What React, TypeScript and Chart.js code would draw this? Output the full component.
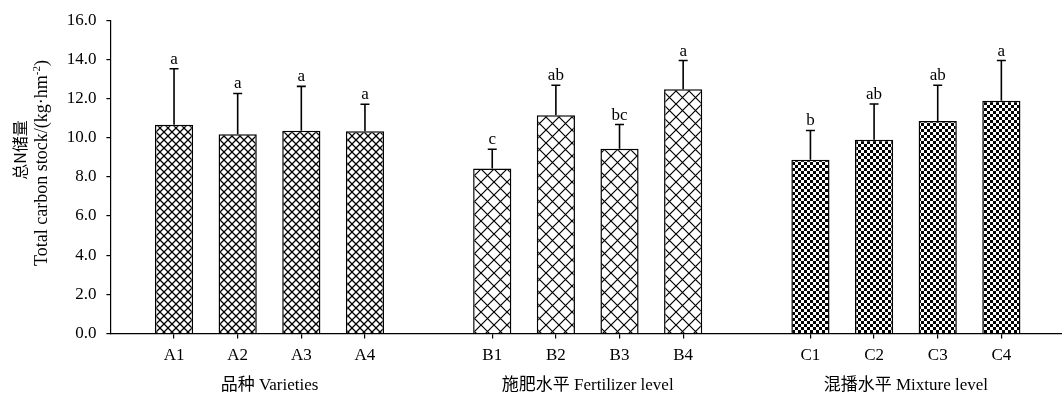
import React, { useEffect, useRef } from "react";
import { Chart, registerables } from "chart.js";
Chart.register(...registerables);

// ---- data ----
const groupALabels = ["A1", "A2", "A3", "A4"];
const groupAValues = [10.66, 10.18, 10.35, 10.33];
const groupAErrors = [2.86, 2.08, 2.27, 1.38];
const groupALetters = ["a", "a", "a", "a"];

const groupBLabels = ["B1", "B2", "B3", "B4"];
const groupBValues = [8.43, 11.14, 9.44, 12.48];
const groupBErrors = [0.98, 1.54, 1.23, 1.46];
const groupBLetters = ["c", "ab", "bc", "a"];

const groupCLabels = ["C1", "C2", "C3", "C4"];
const groupCValues = [8.87, 9.89, 10.85, 11.89];
const groupCErrors = [1.5, 1.83, 1.83, 2.05];
const groupCLetters = ["b", "ab", "ab", "a"];

const groupNames = ["品种 Varieties", "施肥水平 Fertilizer level", "混播水平 Mixture level"];
const yTitleCn = "总N储量";
const yTitleEn = "Total carbon stock/(kg·hm";
const yTitleSup = "-2";
const yTitleEnd = ")";
const yMin = 0;
const yMax = 16;
const yStep = 2;

// build category layout: blank slot, group, blank, group, blank, group, blank
const labels: string[] = ["", ...groupALabels, "", ...groupBLabels, "", ...groupCLabels, ""];
const values: (number | null)[] = [null, ...groupAValues, null, ...groupBValues, null, ...groupCValues, null];
const errors: (number | null)[] = [null, ...groupAErrors, null, ...groupBErrors, null, ...groupCErrors, null];
const letters: string[] = ["", ...groupALetters, "", ...groupBLetters, "", ...groupCLetters, ""];
const groupOf: number[] = [-1, 0, 0, 0, 0, -1, 1, 1, 1, 1, -1, 2, 2, 2, 2, -1];

const SERIF = "'Liberation Serif', 'Times New Roman', 'Noto Sans CJK SC', serif";
const INK = "#000";

function makeCross(ctx: CanvasRenderingContext2D, p: number, lw: number) {
  const c = document.createElement("canvas");
  c.width = p;
  c.height = p;
  const g = c.getContext("2d")!;
  g.fillStyle = "#fff";
  g.fillRect(0, 0, p, p);
  g.strokeStyle = "#000";
  g.lineWidth = lw;
  g.beginPath();
  g.moveTo(-1, -1);
  g.lineTo(p + 1, p + 1);
  g.moveTo(p + 1, -1);
  g.lineTo(-1, p + 1);
  g.stroke();
  return ctx.createPattern(c, "repeat")!;
}

function makeChecker(ctx: CanvasRenderingContext2D, s: number) {
  const c = document.createElement("canvas");
  c.width = s * 2;
  c.height = s * 2;
  const g = c.getContext("2d")!;
  g.fillStyle = "#fff";
  g.fillRect(0, 0, s * 2, s * 2);
  g.fillStyle = "#000";
  g.fillRect(0, 0, s, s);
  g.fillRect(s, s, s, s);
  return ctx.createPattern(c, "repeat")!;
}

export default function App() {
  const ref = useRef<HTMLCanvasElement | null>(null);

  useEffect(() => {
    document.body.style.margin = "0";
    const canvas = ref.current!;
    const ctx = canvas.getContext("2d")!;
    const patA = makeCross(ctx, 8, 1.3);
    const patB = makeCross(ctx, 13, 1.2);
    const patC = makeChecker(ctx, 3);
    const fills = groupOf.map((g) => (g === 0 ? patA : g === 1 ? patB : g === 2 ? patC : "transparent"));

    const extras = {
      id: "extras",
      afterDatasetsDraw(chart: any) {
        const c = chart.ctx;
        const y = chart.scales.y;
        const meta = chart.getDatasetMeta(0);
        c.save();
        c.strokeStyle = INK;
        c.fillStyle = INK;
        c.lineWidth = 1.6;
        c.font = `17px ${SERIF}`;
        c.textAlign = "center";
        c.textBaseline = "bottom";
        meta.data.forEach((bar: any, i: number) => {
          const v = values[i];
          const e = errors[i];
          if (v == null || e == null) return;
          const top = y.getPixelForValue(v + e);
          c.beginPath();
          c.moveTo(bar.x, bar.y);
          c.lineTo(bar.x, top);
          c.moveTo(bar.x - 4.5, top);
          c.lineTo(bar.x + 4.5, top);
          c.stroke();
          c.fillText(letters[i], bar.x, top - 1);
        });
        c.restore();
      },
      afterDraw(chart: any) {
        const c = chart.ctx;
        const x = chart.scales.x;
        c.save();
        c.fillStyle = INK;
        // group labels
        c.font = `17px ${SERIF}`;
        c.textAlign = "center";
        c.textBaseline = "middle";
        groupNames.forEach((name, g) => {
          const idx = groupOf.map((v, i) => (v === g ? i : -1)).filter((i) => i >= 0);
          const cx = (x.getPixelForValue(idx[0]) + x.getPixelForValue(idx[idx.length - 1])) / 2;
          c.fillText(name, cx, 386);
        });
        // y title line 1
        c.save();
        c.translate(20, 150);
        c.rotate(-Math.PI / 2);
        c.font = `16px 'Noto Sans CJK SC', ${SERIF}`;
        c.textAlign = "center";
        c.textBaseline = "middle";
        c.fillText(yTitleCn, 0, 0);
        c.restore();
        // y title line 2
        c.save();
        c.translate(42, 163);
        c.rotate(-Math.PI / 2);
        c.textBaseline = "middle";
        c.textAlign = "left";
        const fMain = `18px ${SERIF}`;
        const fSup = `11px ${SERIF}`;
        c.font = fMain;
        const w1 = c.measureText(yTitleEn).width;
        const w3 = c.measureText(yTitleEnd).width;
        c.font = fSup;
        const w2 = c.measureText(yTitleSup).width;
        let sx = -(w1 + w2 + w3) / 2;
        c.font = fMain;
        c.fillText(yTitleEn, sx, 0);
        sx += w1;
        c.font = fSup;
        c.fillText(yTitleSup, sx, -5);
        sx += w2;
        c.font = fMain;
        c.fillText(yTitleEnd, sx, 0);
        c.restore();
        c.restore();
      },
    };

    const chart = new Chart(ctx, {
      type: "bar",
      data: {
        labels,
        datasets: [
          {
            data: values as any,
            backgroundColor: fills as any,
            borderColor: INK,
            borderWidth: 1.5,
            barPercentage: 0.6,
            categoryPercentage: 1,
          },
        ],
      },
      options: {
        responsive: false,
        animation: false,
        layout: { padding: { top: 16, right: 1.5, left: 0, bottom: 0 } },
        plugins: { legend: { display: false }, tooltip: { enabled: false } },
        scales: {
          x: {
            offset: false,
            grid: {
              offset: false,
              drawOnChartArea: false,
              drawTicks: true,
              tickLength: 5,
              lineWidth: 1.2,
              color: (c: any) => (labels[c.index] ? INK : "rgba(0,0,0,0)"),
            },
            border: { display: true, color: INK, width: 1.2 },
            ticks: {
              autoSkip: false,
              maxRotation: 0,
              minRotation: 0,
              padding: 7,
              color: INK,
              font: { family: SERIF, size: 17 },
            },
            afterFit: (s: any) => {
              s.height = 61.5;
            },
          },
          y: {
            min: yMin,
            max: yMax,
            grid: {
              drawOnChartArea: false,
              drawTicks: true,
              tickLength: 4,
              lineWidth: 1.2,
              color: INK,
            },
            border: { display: true, color: INK, width: 1.2 },
            ticks: {
              stepSize: yStep,
              padding: 10,
              color: INK,
              font: { family: SERIF, size: 17 },
              callback: (v: any) => Number(v).toFixed(1),
            },
            afterFit: (s: any) => {
              s.width = 110.4;
            },
          },
        },
      },
      plugins: [extras],
    });
    return () => chart.destroy();
  }, []);

  return (
    <div style={{ width: 1062, height: 395, overflow: "hidden", position: "relative" }}>
      <canvas ref={ref} width={1072} height={395} style={{ display: "block", width: 1072, height: 395 }} />
    </div>
  );
}
